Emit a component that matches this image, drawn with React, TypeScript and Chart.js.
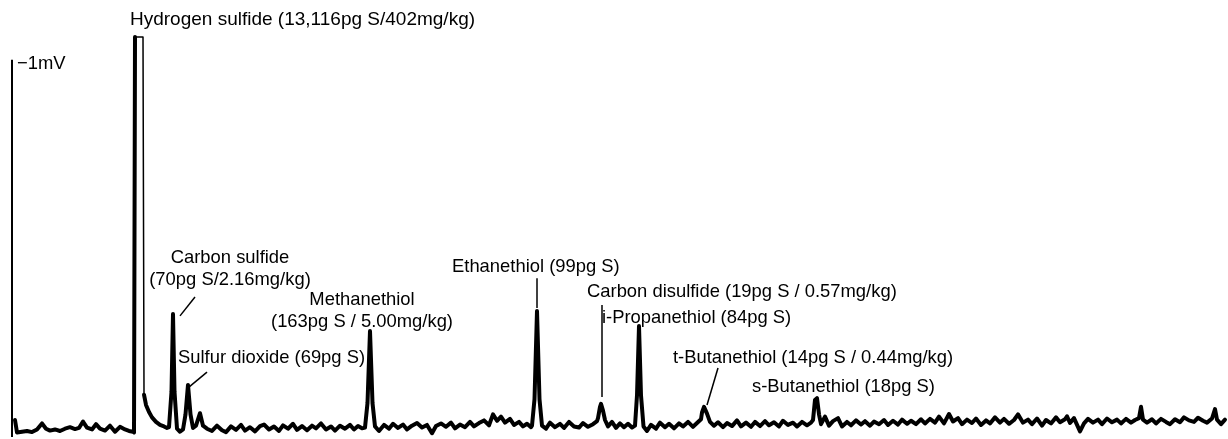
import React, { useEffect, useRef } from "react";
import { Chart, registerables } from "chart.js";

Chart.register(...registerables);

// Retention time (s) of each sample of the detector trace
const times: number[] = [
  3, 5, 10, 15, 20, 25, 30, 34, 38, 43, 48, 53, 58, 63, 67, 71, 75, 80, 84, 88, 93, 98, 103, 108, 113, 117, 121,
  122, 123, 131, 132, 134, 137, 140, 144, 148, 152, 155, 157, 159.5, 161, 162.5, 165, 168, 171, 173.5, 176, 178.5, 181,
  184, 188, 191, 195,
  200, 205, 210, 214, 219, 224, 229, 233, 238, 243, 248, 252, 257, 262, 267, 271, 276, 281, 285, 290, 295, 300, 304,
  309, 314, 319, 323, 328, 333, 338, 342, 346, 350,
  353, 355.5, 358, 360.5, 363,
  367, 372, 377, 381, 386, 391, 395, 400, 405, 410, 415, 420, 424, 429, 434, 439, 443, 448, 453, 458, 462, 467, 472,
  477, 481, 485, 489, 493, 498, 502, 507, 511, 515, 519,
  520, 522.5, 525, 527.5, 530,
  534, 538, 543, 548, 552, 557, 562, 567, 571, 576, 581, 585,
  586, 588, 589, 591, 593, 596, 600, 604, 608, 612, 616, 620,
  623, 625, 627, 629, 631.5,
  635, 639, 644, 648, 653, 657, 662, 667, 671, 676, 681, 685, 689,
  690, 692, 695, 698, 702, 706, 711, 715, 720, 725, 729, 734, 739, 743, 748, 753, 757, 762, 767, 771, 776, 781, 785,
  790, 795, 799,
  801, 803, 805, 807, 809, 813, 817, 821, 826, 830, 835, 839, 844, 849, 853, 858, 862, 867, 872, 876, 881, 886, 890,
  895, 899, 904, 909, 913, 918, 923, 927, 932, 937, 941, 946, 950, 955, 960, 964, 969, 974, 978, 983, 988, 992, 997,
  1002, 1006, 1011, 1016, 1020, 1025, 1030, 1034, 1039, 1044, 1048, 1053, 1055, 1058, 1062, 1068, 1072, 1076, 1081,
  1086, 1090, 1095, 1100, 1105, 1109, 1114, 1119, 1123, 1127, 1129, 1131, 1135, 1140, 1144, 1149, 1154, 1158, 1163,
  1168, 1172, 1177, 1182, 1186, 1191, 1195, 1200, 1203, 1205, 1209, 1213,
];

// Detector signal (mV) for each sample
const signal: number[] = [
  0.045, 0.012, 0.014, 0.016, 0.013, 0.02, 0.036, 0.022, 0.017, 0.02, 0.016, 0.022, 0.026, 0.021, 0.024, 0.041, 0.025,
  0.02, 0.034, 0.022, 0.017, 0.03, 0.014, 0.027, 0.02, 0.016, 0.014,
  0.012, 1.06, 1.06, 0.112, 0.085, 0.066, 0.052, 0.04, 0.032, 0.028, 0.024, 0.026, 0.12, 0.326, 0.12, 0.022, 0.014,
  0.02, 0.06, 0.138, 0.06, 0.024,
  0.03, 0.063, 0.03, 0.022,
  0.016, 0.03, 0.018, 0.013, 0.028, 0.019, 0.032, 0.017, 0.026, 0.015, 0.029, 0.033, 0.02, 0.028, 0.016, 0.031, 0.022,
  0.035, 0.019, 0.029, 0.018, 0.03, 0.023, 0.036, 0.02, 0.028, 0.017, 0.03, 0.022, 0.032, 0.02, 0.029, 0.023,
  0.025, 0.09, 0.281, 0.09, 0.028,
  0.016, 0.032, 0.022, 0.035, 0.024, 0.033, 0.02, 0.03, 0.037, 0.025, 0.032, 0.01, 0.029, 0.036, 0.027, 0.038, 0.023,
  0.033, 0.026, 0.04, 0.028, 0.037, 0.044, 0.031, 0.06, 0.043, 0.054, 0.038, 0.048, 0.032, 0.04, 0.028, 0.035, 0.026,
  0.03, 0.1, 0.334, 0.1, 0.03,
  0.022, 0.038, 0.026, 0.035, 0.024, 0.04, 0.028, 0.025, 0.037, 0.027, 0.034, 0.042,
  0.05, 0.08, 0.088, 0.07, 0.045, 0.028, 0.04, 0.024, 0.036, 0.026, 0.035, 0.025,
  0.03, 0.11, 0.294, 0.11, 0.028,
  0.016, 0.032, 0.022, 0.038, 0.026, 0.035, 0.023, 0.036, 0.028, 0.04, 0.027, 0.037, 0.047,
  0.065, 0.08, 0.062, 0.04, 0.03, 0.039, 0.026, 0.037, 0.029, 0.044, 0.028, 0.038, 0.027, 0.04, 0.029, 0.042, 0.031,
  0.039, 0.028, 0.043, 0.032, 0.038, 0.028, 0.04, 0.031, 0.038,
  0.045, 0.098, 0.103, 0.06, 0.034, 0.054, 0.03, 0.042, 0.05, 0.028, 0.04, 0.031, 0.044, 0.033, 0.042, 0.03, 0.041,
  0.034, 0.045, 0.032, 0.043, 0.033, 0.046, 0.035, 0.043, 0.034, 0.047, 0.036, 0.048, 0.038, 0.054, 0.036, 0.061, 0.041,
  0.05, 0.034, 0.046, 0.037, 0.049, 0.032, 0.044, 0.036, 0.052, 0.038, 0.048, 0.035,
  0.045, 0.06, 0.038, 0.046, 0.034, 0.049, 0.03, 0.045, 0.036, 0.052, 0.039, 0.047, 0.055, 0.037, 0.05, 0.015, 0.036,
  0.048, 0.038, 0.046, 0.034, 0.049, 0.039, 0.046, 0.036, 0.048, 0.038, 0.045, 0.05, 0.08, 0.046, 0.038, 0.047, 0.036,
  0.048, 0.04, 0.034, 0.047, 0.039, 0.052, 0.044, 0.04, 0.051, 0.043, 0.038, 0.049, 0.074, 0.046, 0.034, 0.046,
];

// Peak annotation texts (one entry per text line)
const labelTexts: string[] = [
  "Hydrogen sulfide (13,116pg S/402mg/kg)",
  "Carbon sulfide",
  "(70pg S/2.16mg/kg)",
  "Methanethiol",
  "(163pg S / 5.00mg/kg)",
  "Sulfur dioxide (69pg S)",
  "Ethanethiol (99pg S)",
  "Carbon disulfide (19pg S / 0.57mg/kg)",
  "i-Propanethiol (84pg S)",
  "t-Butanethiol (14pg S / 0.44mg/kg)",
  "s-Butanethiol (18pg S)",
];
// Layout of those texts in data space: time (s), level (mV), alignment, font size
const labelTime: number[] = [118, 218, 218, 350, 350, 166, 440, 575, 590, 661, 740];
const labelLevel: number[] = [1.105, 0.474, 0.416, 0.363, 0.305, 0.209, 0.45, 0.384, 0.315, 0.209, 0.132];
const labelAlign: CanvasTextAlign[] = ["left", "center", "center", "center", "center", "left", "left", "left", "left", "left", "left"];
const labelSize: number[] = [19, 18.4, 18.4, 18.4, 18.4, 18.4, 18.4, 18.4, 18.4, 18.4, 18.4];

// Leader lines [t1, mV1, t2, mV2]
const leaders: number[][] = [
  [168, 0.321, 183, 0.371],
  [176, 0.13, 195, 0.172],
  [525, 0.421, 525, 0.342],
  [590, 0.35, 590, 0.106],
  [706, 0.183, 695, 0.085],
];

const SCALE_BAR_MV = 1;
const SCALE_BAR_LABEL = "\u22121mV";
const Y_MAX = 1.06;

const fontOf = (size: number) => `${size}px "Liberation Sans", Arial, Helvetica, sans-serif`;

const annotationPlugin = {
  id: "chromAnnotations",
  afterDatasetsDraw(chart: any) {
    const { ctx, scales } = chart;
    const xs = scales.x;
    const ys = scales.y;
    ctx.save();
    // scale bar
    const x0 = xs.getPixelForValue(0);
    const yb = ys.getPixelForValue(0);
    const yt = ys.getPixelForValue(SCALE_BAR_MV);
    ctx.strokeStyle = "#000";
    ctx.lineWidth = 2;
    ctx.beginPath();
    ctx.moveTo(x0, yb);
    ctx.lineTo(x0, yt);
    ctx.stroke();
    ctx.fillStyle = "#000";
    ctx.font = fontOf(18.4);
    ctx.textBaseline = "middle";
    ctx.textAlign = "left";
    ctx.fillText(SCALE_BAR_LABEL, x0 + 5, yt + 4);

    // labels
    labelTexts.forEach((txt, i) => {
      ctx.font = fontOf(labelSize[i]);
      ctx.textAlign = labelAlign[i];
      ctx.fillText(txt, xs.getPixelForValue(labelTime[i]), ys.getPixelForValue(labelLevel[i]));
    });

    // leaders
    ctx.lineWidth = 1.5;
    leaders.forEach(([t1, v1, t2, v2]) => {
      ctx.beginPath();
      ctx.moveTo(xs.getPixelForValue(t1), ys.getPixelForValue(v1));
      ctx.lineTo(xs.getPixelForValue(t2), ys.getPixelForValue(v2));
      ctx.stroke();
    });
    ctx.restore();
  },
};

export default function App() {
  const canvasRef = useRef<HTMLCanvasElement | null>(null);

  useEffect(() => {
    if (!canvasRef.current) return;
    const chart = new Chart(canvasRef.current, {
      type: "line",
      data: {
        datasets: [
          {
            data: times.map((t, i) => ({ x: t, y: signal[i] })),
            borderColor: "#000",
            borderWidth: 4,
            pointRadius: 0,
            tension: 0,
            borderJoinStyle: "round",
            borderCapStyle: "round",
            clip: false as any,
            segment: {
              // the off-scale hydrogen sulfide peak is drawn as a thin outline on top and on its falling side
              borderWidth: (c: any) => (c.p0.parsed.y >= Y_MAX ? 1.5 : 4),
            },
          },
        ],
      },
      options: {
        animation: false,
        responsive: false,
        devicePixelRatio: 1,
        layout: { padding: { left: 12, right: 2, top: 37, bottom: 2 } },
        scales: {
          x: { type: "linear", min: 0, max: 1214, display: false },
          y: { type: "linear", min: 0, max: Y_MAX, display: false },
        },
        plugins: { legend: { display: false }, tooltip: { enabled: false } },
      },
      plugins: [annotationPlugin],
    });
    return () => chart.destroy();
  }, []);

  return (
    <div style={{ position: "fixed", left: 0, top: 0, width: 1228, height: 439, background: "#fff" }}>
      <canvas ref={canvasRef} width={1228} height={439} style={{ display: "block" }} />
    </div>
  );
}
